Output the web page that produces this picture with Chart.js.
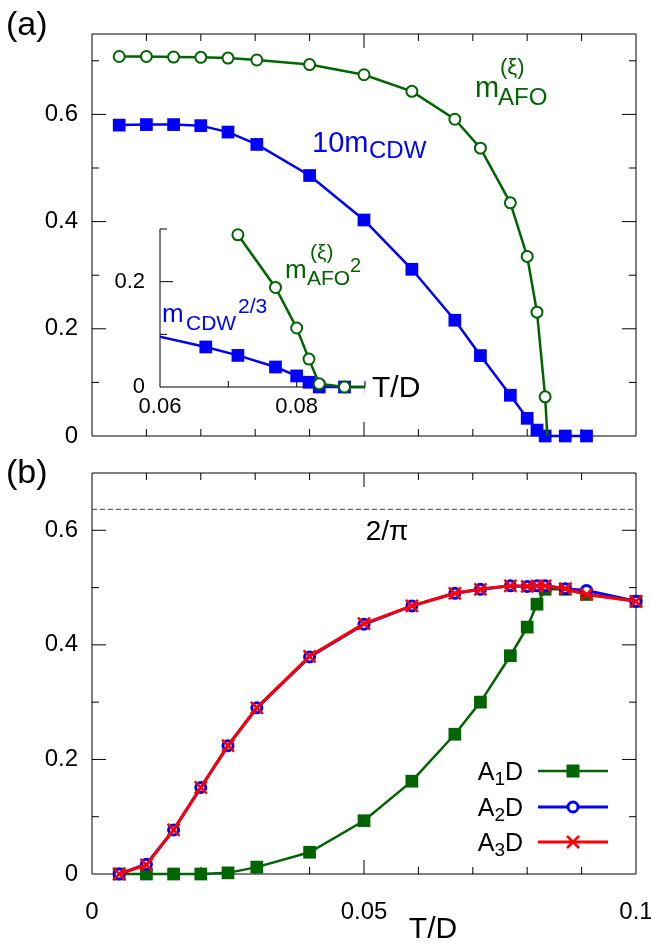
<!DOCTYPE html>
<html>
<head>
<meta charset="utf-8">
<script src="https://cdn.jsdelivr.net/npm/chart.js@4.4.1/dist/chart.umd.min.js"></script>
<style>
  body { margin: 0; background: #fff; }
  #wrap { position: relative; width: 651px; height: 944px; }
  canvas { position: absolute; }
</style>
</head>
<body>
<div id="wrap">
  <canvas id="chartA" width="651" height="450" style="left:0;top:0"></canvas>
  <canvas id="chartInset" width="330" height="205" style="left:100px;top:215px"></canvas>
  <canvas id="chartB" width="651" height="494" style="left:0;top:450px"></canvas>
</div>
<script>
// temperature grid T/D
const tempGrid = [0.005, 0.01, 0.015, 0.02, 0.025, 0.0303, 0.04, 0.05, 0.0588, 0.0667, 0.0714, 0.0769, 0.08, 0.0818, 0.0833, 0.087, 0.0909, 0.1];

// (a) 10 m_CDW (up to 0.0909)
const cdwTenfold = [0.580, 0.581, 0.581, 0.579, 0.567, 0.544, 0.486, 0.403, 0.311, 0.216, 0.150, 0.076, 0.033, 0.011, 0, 0, 0];
// (a) m_AFO, curve ends where it hits zero
const afoTemp = [0.005, 0.01, 0.015, 0.02, 0.025, 0.0303, 0.04, 0.05, 0.0588, 0.0667, 0.0714, 0.0769, 0.08, 0.0818, 0.0833, 0.0837];
const afoValues = [0.708, 0.708, 0.707, 0.7065, 0.705, 0.7015, 0.693, 0.674, 0.643, 0.591, 0.537, 0.435, 0.335, 0.231, 0.073, 0];

// inset: m_CDW^(2/3) and m_AFO^2
const insetTemp = [0.0588, 0.0667, 0.0714, 0.0769, 0.08, 0.0818, 0.0833, 0.087, 0.0909];
const cdwInset = [0.099, 0.076, 0.060, 0.038, 0.021, 0.009, 0, 0, 0];
const afoInsetTemp = [0.0714, 0.0769, 0.08, 0.0818, 0.0833, 0.087, 0.0909];
const afoInset = [0.289, 0.189, 0.112, 0.053, 0.006, 0, 0];

// (b) A1D, A2D, A3D
const a1d = [0, 0, 0, 0, 0.002, 0.012, 0.038, 0.093, 0.162, 0.244, 0.300, 0.381, 0.431, 0.471, 0.497, 0.497, 0.488, 0.476];
const a2d = [0, 0.017, 0.077, 0.151, 0.224, 0.290, 0.379, 0.436, 0.468, 0.490, 0.497, 0.503, 0.502, 0.503, 0.503, 0.498, 0.495, 0.476];
const a3d = [0, 0.016, 0.077, 0.151, 0.224, 0.290, 0.380, 0.437, 0.468, 0.490, 0.497, 0.503, 0.502, 0.503, 0.503, 0.498, 0.488, 0.476];
const twoOverPi = 0.6366;

// tick labels and tick marks
const xTickLabels = [0, 0.05, 0.1];
const yTickLabelsA = [0, 0.2, 0.4, 0.6];
const yTickLabelsB = [0, 0.2, 0.4, 0.6];
const insetXTickLabels = [0.06, 0.08];
const insetYTickLabels = [0, 0.2];
const xTickMarks = [0.01, 0.02, 0.03, 0.04, 0.05, 0.06, 0.07, 0.08, 0.09];
const xMajorMarks = [0.05];
const yTickMarksA = [0.1, 0.2, 0.3, 0.4, 0.5, 0.6, 0.7];
const yTickMarksB = [0.1, 0.2, 0.3, 0.4, 0.5, 0.6];
const yMajorMarks = [0.2, 0.4, 0.6];
const insetXMarks = [0.07, 0.08, 0.09];
const insetYMarks = [0.1, 0.2, 0.3];
const insetYMajor = [0.2];

const FONT = "'Liberation Sans', Arial, sans-serif";
const GREEN = '#006400';
const BLUE = '#0000ff';
const RED = '#ff0000';

Chart.defaults.font.family = FONT;
Chart.defaults.animation = false;

const pts = (xs, ys) => ys.map((v, i) => ({ x: xs[i], y: v }));

function fixedScale(min, max, labels, size, pad, showLabels, fontSize) {
  return {
    type: 'linear', min, max,
    grid: { display: false, drawTicks: false },
    border: { display: false },
    afterBuildTicks: (s) => { s.ticks = labels.map((v) => ({ value: v })); },
    afterFit: (s) => {
      if (s.isHorizontal()) s.height = size; else s.width = size;
      s.paddingLeft = s.paddingRight = s.paddingTop = s.paddingBottom = 0;
    },
    ticks: {
      display: showLabels, padding: pad, color: '#000', autoSkip: false, maxRotation: 0,
      font: { family: FONT, size: fontSize },
      callback: (v) => String(v),
    },
  };
}

// frame + inward ticks, drawn under the data
function framePlugin(spec) {
  return {
    id: 'frame',
    beforeDatasetsDraw(chart) {
      const { ctx, chartArea: a } = chart;
      const sx = chart.scales.x, sy = chart.scales.y;
      ctx.save();
      ctx.strokeStyle = '#000';
      ctx.lineWidth = 1;
      ctx.beginPath();
      if (spec.box) {
        ctx.rect(a.left, a.top, a.right - a.left, a.bottom - a.top);
      } else {
        ctx.moveTo(a.left, a.top); ctx.lineTo(a.left, a.bottom); ctx.lineTo(a.right, a.bottom);
      }
      spec.xMarks.forEach((v) => {
        const px = sx.getPixelForValue(v);
        const len = spec.xMajor.includes(v) ? spec.major : spec.xMinorLen;
        ctx.moveTo(px, a.bottom); ctx.lineTo(px, a.bottom - len);
        if (spec.box) { ctx.moveTo(px, a.top); ctx.lineTo(px, a.top + len); }
      });
      spec.yMarks.forEach((v) => {
        const py = sy.getPixelForValue(v);
        const len = spec.yMajor.includes(v) ? spec.major : spec.minor;
        ctx.moveTo(a.left, py); ctx.lineTo(a.left + len, py);
        if (spec.box) { ctx.moveTo(a.right, py); ctx.lineTo(a.right - len, py); }
      });
      ctx.stroke();
      ctx.restore();
    },
  };
}

function txt(ctx, s, x, y, size, color, align) {
  ctx.font = size + 'px ' + FONT;
  ctx.fillStyle = color;
  ctx.textAlign = align || 'left';
  ctx.textBaseline = 'alphabetic';
  ctx.fillText(s, x, y);
}

const labelsA = {
  id: 'labelsA',
  afterDraw(chart) {
    const ctx = chart.ctx;
    ctx.save();
    txt(ctx, '(a)', 6, 35, 34, '#000');
    // m_AFO^(xi)
    txt(ctx, 'm', 475, 97, 29, GREEN);
    txt(ctx, 'AFO', 498, 105, 24, GREEN);
    txt(ctx, '(\u03be)', 500, 74, 22, GREEN);
    // 10 m_CDW
    txt(ctx, '10m', 312, 152, 29, BLUE);
    txt(ctx, 'CDW', 369, 158, 24, BLUE);
    // inset labels
    txt(ctx, 'm', 285, 278, 26, GREEN);
    txt(ctx, 'AFO', 307, 285, 21, GREEN);
    txt(ctx, '(\u03be)', 310, 259, 21, GREEN);
    txt(ctx, '2', 350, 272, 20, GREEN);
    txt(ctx, 'm', 162, 322, 26, BLUE);
    txt(ctx, 'CDW', 186, 330, 21, BLUE);
    txt(ctx, '2/3', 238, 313, 21, BLUE);
    txt(ctx, 'T/D', 372, 397, 30, '#000');
    ctx.restore();
  },
};

function drawMarker(ctx, kind, x, y, color) {
  ctx.save();
  if (kind === 'square') {
    ctx.fillStyle = color;
    ctx.fillRect(x - 6.5, y - 6.5, 13, 13);
  } else if (kind === 'circle') {
    ctx.beginPath();
    ctx.arc(x, y, 5, 0, Math.PI * 2);
    ctx.fillStyle = '#fff'; ctx.fill();
    ctx.lineWidth = 3; ctx.strokeStyle = color; ctx.stroke();
  } else {
    const r = 6;
    ctx.beginPath();
    ctx.moveTo(x - r, y - r); ctx.lineTo(x + r, y + r);
    ctx.moveTo(x + r, y - r); ctx.lineTo(x - r, y + r);
    ctx.lineWidth = 2.5; ctx.strokeStyle = color; ctx.stroke();
  }
  ctx.restore();
}

const legendItemsB = [
  { sub: '1', color: GREEN, marker: 'square' },
  { sub: '2', color: BLUE, marker: 'circle' },
  { sub: '3', color: RED, marker: 'cross' },
];

const labelsB = {
  id: 'labelsB',
  afterDraw(chart) {
    const ctx = chart.ctx;
    ctx.save();
    txt(ctx, '(b)', 6, 33, 34, '#000');
    txt(ctx, '2/\u03c0', 387, 90, 28, '#000', 'center');
    txt(ctx, 'T/D', 433, 488, 30, '#000', 'center');
    const rows = [321, 357, 392];
    legendItemsB.forEach((it, i) => {
      const y = rows[i];
      ctx.font = '25px ' + FONT;
      const wA = ctx.measureText('A').width, wD = ctx.measureText('D').width;
      ctx.font = '19px ' + FONT;
      const wS = ctx.measureText(it.sub).width;
      const x0 = 523 - wA - wS - wD;
      txt(ctx, 'A', x0, y + 9, 25, '#000');
      txt(ctx, it.sub, x0 + wA, y + 14, 19, '#000');
      txt(ctx, 'D', x0 + wA + wS, y + 9, 25, '#000');
      ctx.beginPath();
      ctx.moveTo(538, y); ctx.lineTo(608, y);
      ctx.lineWidth = it.marker === 'square' ? 2.5 : 3;
      ctx.strokeStyle = it.color; ctx.stroke();
      drawMarker(ctx, it.marker, 573, y, it.color);
    });
    ctx.restore();
  },
};

// ---------- panel (a) ----------
new Chart(document.getElementById('chartA'), {
  type: 'scatter',
  data: {
    datasets: [
      {
        data: pts(afoTemp, afoValues), showLine: true, order: 0, clip: false,
        borderColor: GREEN, borderWidth: 2.5,
        pointStyle: 'circle', pointRadius: afoValues.map((v, i) => (i === afoValues.length - 1 ? 0 : 5.5)),
        pointBackgroundColor: '#fff', pointBorderColor: GREEN, pointBorderWidth: 2,
      },
      {
        data: pts(tempGrid, cdwTenfold), showLine: true, order: 1, clip: false,
        borderColor: BLUE, borderWidth: 2.5,
        pointStyle: 'rect', pointRadius: 9, pointBackgroundColor: BLUE, pointBorderWidth: 0,
      },
    ],
  },
  options: {
    responsive: false, events: [],
    layout: { padding: { top: 34, right: 15, left: 0, bottom: 0 } },
    plugins: { legend: { display: false }, tooltip: { enabled: false } },
    scales: {
      x: fixedScale(0, 0.1, xTickLabels, 14, 0, false, 24),
      y: fixedScale(0, 0.75, yTickLabelsA, 92, 14, true, 24),
    },
  },
  plugins: [framePlugin({ box: true, xMarks: xTickMarks, xMajor: xMajorMarks, yMarks: yTickMarksA, yMajor: yMajorMarks, major: 14, minor: 7, xMinorLen: 7 }), labelsA],
});

// ---------- inset ----------
new Chart(document.getElementById('chartInset'), {
  type: 'scatter',
  data: {
    datasets: [
      {
        data: pts(afoInsetTemp, afoInset), showLine: true, order: 0,
        clip: { left: 0, top: 6, right: 0, bottom: 10 },
        borderColor: GREEN, borderWidth: 2.5,
        pointStyle: 'circle', pointRadius: 5.5,
        pointBackgroundColor: '#fff', pointBorderColor: GREEN, pointBorderWidth: 2,
      },
      {
        data: pts(insetTemp, cdwInset), showLine: true, order: 1,
        clip: { left: 0, top: 6, right: 0, bottom: 10 },
        borderColor: BLUE, borderWidth: 2.5,
        pointStyle: 'rect', pointRadius: 9, pointBackgroundColor: BLUE, pointBorderWidth: 0,
      },
    ],
  },
  options: {
    responsive: false, events: [],
    layout: { padding: { top: 14, right: 65, left: 0, bottom: 0 } },
    plugins: { legend: { display: false }, tooltip: { enabled: false } },
    scales: {
      x: fixedScale(0.06, 0.09, insetXTickLabels, 33, 7, true, 22),
      y: fixedScale(0, 0.3, insetYTickLabels, 60, 15, true, 22),
    },
  },
  plugins: [framePlugin({ box: false, xMarks: insetXMarks, xMajor: [], yMarks: insetYMarks, yMajor: insetYMajor, major: 13, minor: 7, xMinorLen: 6 })],
});

// ---------- panel (b) ----------
new Chart(document.getElementById('chartB'), {
  type: 'scatter',
  data: {
    datasets: [
      {
        data: pts(tempGrid, a3d), showLine: true, order: 0, clip: false,
        borderColor: RED, borderWidth: 3,
        pointStyle: 'crossRot', pointRadius: 8.5, pointBorderColor: RED, pointBorderWidth: 2.5,
      },
      {
        data: pts(tempGrid, a2d), showLine: true, order: 1, clip: false,
        borderColor: BLUE, borderWidth: 3,
        pointStyle: 'circle', pointRadius: 5, pointBackgroundColor: '#fff', pointBorderColor: BLUE, pointBorderWidth: 3,
      },
      {
        data: pts(tempGrid, a1d), showLine: true, order: 2, clip: false,
        borderColor: GREEN, borderWidth: 2.5,
        pointStyle: 'rect', pointRadius: 9, pointBackgroundColor: GREEN, pointBorderWidth: 0,
      },
      {
        data: [{ x: 0, y: twoOverPi }, { x: 0.1, y: twoOverPi }], showLine: true, order: 3,
        borderColor: '#444', borderWidth: 1, borderDash: [5, 3], pointRadius: 0,
      },
    ],
  },
  options: {
    responsive: false, events: [],
    layout: { padding: { top: 23, right: 15, left: 0, bottom: 0 } },
    plugins: { legend: { display: false }, tooltip: { enabled: false } },
    scales: {
      x: fixedScale(0, 0.1, xTickLabels, 70, 24, true, 24),
      y: fixedScale(0, 0.7, yTickLabelsB, 92, 14, true, 24),
    },
  },
  plugins: [framePlugin({ box: true, xMarks: xTickMarks, xMajor: xMajorMarks, yMarks: yTickMarksB, yMajor: yMajorMarks, major: 14, minor: 7, xMinorLen: 7 }), labelsB],
});
</script>
</body>
</html>
